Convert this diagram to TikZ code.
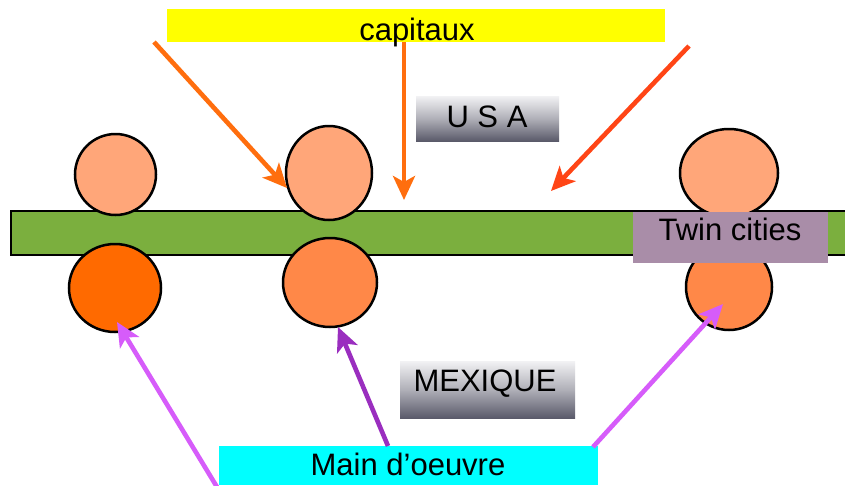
\documentclass[tikz,border=0pt]{standalone}
\usepackage{fontspec}
\setmainfont{Liberation Sans}
\usetikzlibrary{arrows.meta,shapes.geometric}
\definecolor{barG}{HTML}{7BAF3E}
\definecolor{lightO}{HTML}{FFA679}
\definecolor{deepO}{HTML}{FF6A00}
\definecolor{midO}{HTML}{FF8848}
\definecolor{twinC}{HTML}{A98DA8}
\definecolor{arrO}{HTML}{FF6E0E}
\definecolor{arrR}{HTML}{FF4516}
\definecolor{arrP}{HTML}{D65CFA}
\definecolor{arrV}{HTML}{9A2EBF}
\definecolor{grayT}{HTML}{F2F2F4}
\definecolor{grayM}{HTML}{B0B0B8}
\definecolor{grayB}{HTML}{5A5A6A}
\definecolor{capY}{HTML}{FFFF00}
\definecolor{mainC}{HTML}{00FFFF}
\begin{document}
\begin{tikzpicture}[x=1pt,y=-1pt,
  circ/.style={ellipse, draw=black, line width=2.5pt, inner sep=0pt, outer sep=0pt},
  flatbox/.style={rectangle, inner sep=0pt, outer sep=0pt},
  graybox/.style={rectangle, inner sep=0pt, outer sep=0pt, top color=grayT, bottom color=grayB, middle color=grayM},
  lbl/.style={anchor=base, inner sep=0pt, font=\fontsize{31}{36}\selectfont},
  arr/.style={line width=4.6pt, -{Stealth[length=24pt,width=22pt,inset=6pt]}}]
\useasboundingbox (0,0) rectangle (845,485);
\clip (0,0) rectangle (845,485);
\fill[white] (0,0) rectangle (845,485);
% bar
\node[flatbox, draw=black, line width=2.5pt, fill=barG, minimum width=860pt, minimum height=44pt] (bar) at (441,233) {};
% circles
\node[circ, fill=lightO, minimum width=81pt, minimum height=81pt] (t1) at (115.5,174.5) {};
\node[circ, fill=deepO, minimum width=92pt, minimum height=88pt] (b1) at (115,288) {};
\node[circ, fill=lightO, minimum width=86pt, minimum height=94pt] (t2) at (329,173) {};
\node[circ, fill=midO, minimum width=94pt, minimum height=89pt] (b2) at (330,282.5) {};
\node[circ, fill=lightO, minimum width=98pt, minimum height=88pt] (t3) at (729,173) {};
\node[circ, fill=midO, minimum width=86pt, minimum height=86pt] (b3) at (729,287) {};
% boxes
\node[flatbox, fill=capY, minimum width=498pt, minimum height=33pt] (cap) at (416,25.5) {};
\node[lbl] (capL) at (417,40) {capitaux};
\node[graybox, minimum width=143pt, minimum height=45pt] (usa) at (487.5,118.5) {};
\node[lbl] (usaL) at (487,127) {U S A};
\node[graybox, minimum width=175pt, minimum height=57pt] (mex) at (487.5,389.5) {};
\node[lbl] (mexL) at (485,391) {MEXIQUE};
\node[flatbox, fill=twinC, minimum width=195pt, minimum height=51pt] (twin) at (730.5,237.5) {};
\node[lbl] (twinL) at (730,240.5) {Twin cities};
\node[flatbox, fill=mainC, minimum width=379pt, minimum height=39pt] (main) at (408.5,465.5) {};
\node[lbl] (mainL) at (408,475.5) {Main d’oeuvre};
% arrow end points
\coordinate (s1) at (154,42);  \coordinate (e1) at (287,188);
\coordinate (s2) at (404,42);  \coordinate (e2) at (404,200);
\coordinate (s3) at (689,46);  \coordinate (e3) at (551,191);
\coordinate (s4) at (217,487); \coordinate (e4) at (117,322);
\coordinate (s5) at (388,446); \coordinate (e5) at (338,327);
\coordinate (s6) at (593,447); \coordinate (e6) at (723,304);
\draw[arr, arrO] (s1) -- (e1);
\draw[arr, arrO] (s2) -- (e2);
\draw[arr, arrR] (s3) -- (e3);
\draw[arr, arrP] (s4) -- (e4);
\draw[arr, arrV] (s5) -- (e5);
\draw[arr, arrP] (s6) -- (e6);
\end{tikzpicture}
\end{document}
